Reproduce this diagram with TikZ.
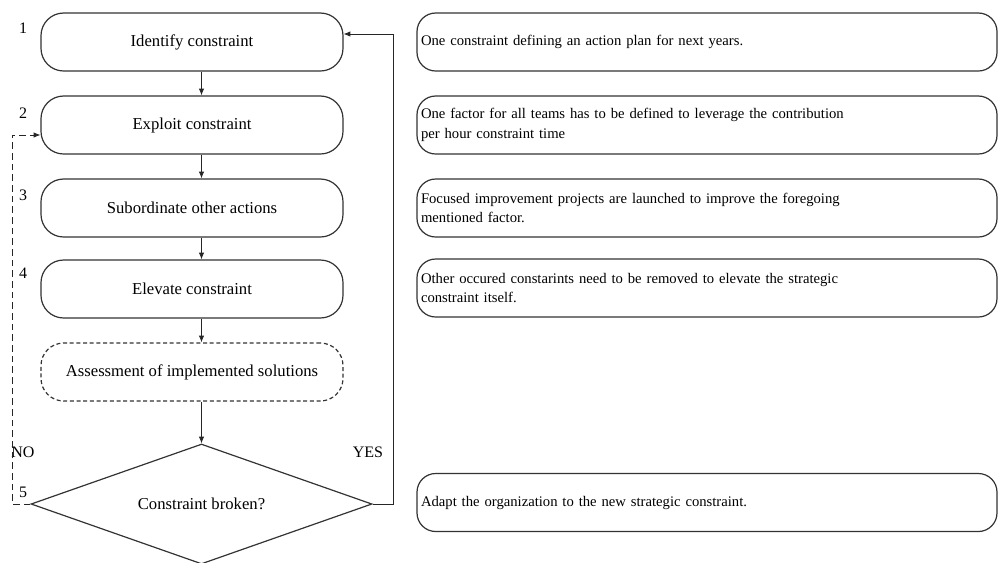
\documentclass[tikz,border=0pt]{standalone}
\usepackage{fontspec}
\setmainfont{Liberation Serif}
\usetikzlibrary{shapes.geometric,arrows.meta}

\tikzset{
  stepbox/.style={draw=black!80, line width=0.9pt, rounded corners=17pt,
    minimum width=226.5pt, minimum height=43.5pt, inner sep=0pt,
    font=\fontsize{12.5}{15}\selectfont},
  notebox/.style={draw=black!80, line width=0.9pt, rounded corners=14pt,
    minimum width=435pt, minimum height=43.5pt, text width=429pt,
    inner xsep=3pt, inner ysep=0pt, align=left,
    font=\fontsize{11}{14.5}\selectfont},
  flow/.style={-{Latex[length=5pt,width=4pt]}, draw=black!85, line width=0.6pt},
  numlabel/.style={font=\fontsize{12}{14}\selectfont}
}

\begin{document}
\begin{tikzpicture}[x=0.75pt,y=-0.75pt]
\useasboundingbox (0,0) rectangle (998,562);

% Steps
\node[stepbox] (step1) at (192,42) {Identify constraint};
\node[stepbox] (step2) at (192,125) {Exploit constraint};
\node[stepbox] (step3) at (192,208) {Subordinate other actions};
\node[stepbox] (step4) at (192,289) {Elevate constraint};
\node[stepbox, dash pattern=on 3pt off 2pt] (assess) at (192,372) {Assessment of implemented solutions};

% Decision
\node[diamond, draw=black!80, line width=0.9pt, aspect=2.84, minimum width=255.75pt,
  minimum height=90pt, inner sep=0pt, font=\fontsize{12.5}{15}\selectfont]
  (check) at (201.5,504) {\raisebox{-4pt}{Constraint broken?}};

% Step numbers
\foreach \n/\y in {1/28,2/113,3/195,4/273,5/492}
  \node[numlabel] (num\n) at (23,\y) {\n};

\node[numlabel, anchor=west, inner sep=0pt] (no) at (11,452) {NO};
\node[numlabel] (yes) at (368,452) {YES};

% Arrows down
\draw[flow] (step1.south -| check) -- (step2.north -| check);
\draw[flow] (step2.south -| check) -- (step3.north -| check);
\draw[flow] (step3.south -| check) -- (step4.north -| check);
\draw[flow] (step4.south -| check) -- (assess.north -| check);
\draw[flow] (assess.south -| check) -- (check.north);

% Loops back
\coordinate (yesturn) at (393,504);
\coordinate (noturn) at (12,504);
\draw[flow] (check.east) -- (yesturn) |- ([yshift=6pt]step1.east);
\draw[flow, dash pattern=on 5pt off 3pt] (check.west) -- (noturn) |- ([yshift=-7.5pt]step2.west);

% Notes
\node[notebox] (note1) at (707,42) {One constraint defining an action plan for next years.};
\node[notebox] (note2) at (707,125) {One factor for all teams has to be defined to leverage the contribution\\per hour constraint time};
\node[notebox] (note3) at (707,208) {Focused improvement projects are launched to improve the foregoing\\mentioned factor.};
\node[notebox] (note4) at (707,288) {Other occured constarints need to be removed to elevate the strategic\\constraint itself.};
\node[notebox] (note5) at (707,502.5) {Adapt the organization to the new strategic constraint.};
\end{tikzpicture}
\end{document}
